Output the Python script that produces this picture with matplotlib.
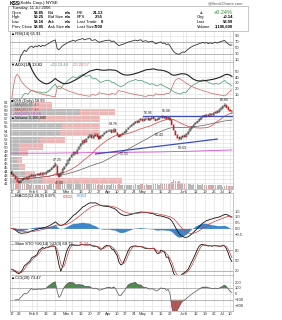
import numpy as np
import pandas as pd
import matplotlib
matplotlib.use("Agg")
import matplotlib.pyplot as plt

# ---- data ----
closes = [43.4, 42.9, 42.1, 41.5,
          41.2, 41.7, 42.0, 42.4, 42.1,
          42.5, 42.9, 43.1, 42.8, 43.2,
          43.0, 43.4, 43.1, 43.5, 43.3,
          43.7, 44.0, 44.4, 44.9, 45.3,
          45.7, 43.2, 42.7, 43.5,
          44.5, 45.1,
          45.9, 46.7, 47.4,
          48.0, 48.7, 48.3, 49.4, 50.1,
          50.7, 51.6, 51.1, 52.1, 52.5,
          52.9, 52.2, 52.7, 53.1, 52.6,
          52.1, 52.7, 53.1, 53.5, 53.9,
          54.0, 54.1, 53.6, 54.3, 53.7,
          53.1, 52.6, 53.0, 53.4,
          53.7, 54.3, 54.8, 55.1, 55.5,
          55.9, 56.3, 56.1, 56.6, 57.0,
          56.5, 56.9, 57.1, 56.7, 57.0,
          57.3, 57.1, 56.6, 56.9, 57.3,
          57.6, 57.2, 57.5, 57.0, 57.4,
          56.8, 55.6, 54.2, 53.0, 52.3,
          51.9, 52.4,
          52.8, 52.5,
          53.2, 53.8, 54.5, 55.1, 55.6,
          56.0, 56.4, 56.9, 57.3, 57.8,
          57.5, 58.0, 57.6, 58.2, 57.9,
          58.4, 58.8, 58.5, 59.2, 59.6,
          60.1,
          60.4, 59.8, 59.3,
          58.85, 58.99]
opens = [43.9, 43.3, 42.8, 42.0,
         41.6, 41.2, 41.8, 42.0, 42.5,
         42.1, 42.5, 42.9, 43.2, 42.8,
         43.3, 43.0, 43.5, 43.1, 43.6,
         43.3, 43.7, 44.0, 44.4, 44.9,
         45.3, 45.4, 43.3, 42.8,
         43.6, 44.6,
         45.2, 45.9, 46.8,
         47.5, 48.1, 48.8, 48.4, 49.5,
         50.2, 50.8, 51.7, 51.2, 52.2,
         52.6, 53.0, 52.3, 52.8, 53.2,
         52.7, 52.2, 52.8, 53.2, 53.6,
         54.0, 54.0, 54.2, 53.7, 54.4,
         53.6, 53.1, 52.7, 53.1,
         53.5, 53.8, 54.4, 54.9, 55.2,
         55.6, 56.0, 56.4, 56.2, 56.7,
         57.0, 56.6, 57.0, 57.2, 56.8,
         57.1, 57.4, 57.0, 56.7, 57.0,
         57.4, 57.7, 57.3, 57.5, 57.1,
         57.3, 56.7, 55.5, 54.1, 53.1,
         52.4, 52.0,
         52.5, 52.9,
         52.6, 53.3, 53.9, 54.6, 55.2,
         55.7, 56.1, 56.5, 57.0, 57.4,
         57.9, 57.6, 58.1, 57.7, 58.3,
         58.0, 58.5, 58.9, 58.6, 59.3,
         59.7,
         60.2, 60.5, 59.9,
         59.2, 58.85]
highs = [44.3, 43.6, 43.0, 42.3,
         41.9, 41.9, 42.3, 42.6, 42.7,
         42.7, 43.1, 43.4, 43.4, 43.4,
         43.5, 43.6, 43.7, 43.7, 43.8,
         43.9, 44.2, 44.6, 45.1, 45.6,
         46.2, 45.7, 43.5, 43.7,
         44.7, 45.4,
         46.1, 46.9, 47.6,
         48.3, 48.9, 49.0, 49.6, 50.4,
         51.0, 51.8, 51.9, 52.3, 52.8,
         53.2, 53.2, 52.9, 53.4, 53.4,
         52.9, 52.9, 53.3, 53.7, 54.1,
         54.3, 54.4, 54.4, 54.76, 54.6,
         53.8, 53.3, 53.2, 53.6,
         53.9, 54.5, 55.0, 55.4, 55.8,
         56.1, 56.6, 56.7, 56.9, 57.3,
         57.6, 57.2, 57.4, 57.5, 57.2,
         57.5, 57.6, 57.2, 57.1, 57.5,
         57.8, 57.98, 57.7, 57.7, 57.6,
         57.5, 56.9, 55.7, 54.3, 53.3,
         52.6, 52.6,
         53.0, 53.1,
         53.4, 54.0, 54.7, 55.3, 55.8,
         56.2, 56.6, 57.1, 57.5, 58.0,
         58.1, 58.2, 58.3, 58.4, 58.5,
         58.6, 59.0, 59.1, 59.4, 59.8,
         60.3,
         60.89, 60.7, 60.1,
         59.4, 59.25]
lows = [43.1, 42.6, 41.8, 41.1,
        40.8, 41.0, 41.5, 41.8, 41.9,
        41.9, 42.3, 42.7, 42.6, 42.6,
        42.8, 42.8, 42.9, 42.9, 43.1,
        43.1, 43.5, 43.8, 44.2, 44.7,
        45.1, 42.9, 42.3, 42.6,
        43.4, 44.4,
        45.0, 45.7, 46.6,
        47.3, 47.9, 48.0, 48.2, 49.3,
        50.0, 50.6, 50.9, 51.0, 52.0,
        52.4, 51.9, 52.0, 52.6, 52.4,
        51.8, 52.0, 52.6, 53.0, 53.4,
        53.7, 53.8, 53.4, 53.5, 53.5,
        52.9, 52.4, 52.4, 52.9,
        53.3, 53.6, 54.2, 54.7, 55.0,
        55.4, 55.8, 55.9, 56.0, 56.5,
        56.2, 56.4, 56.8, 56.5, 56.6,
        56.9, 56.9, 56.4, 56.5, 56.8,
        57.2, 57.0, 57.1, 56.8, 56.9,
        56.6, 55.4, 54.0, 52.8, 52.1,
        51.6, 51.8,
        52.3, 52.2,
        52.4, 53.1, 53.7, 54.4, 55.0,
        55.5, 55.9, 56.3, 56.8, 57.2,
        57.3, 57.4, 57.4, 57.5, 57.7,
        57.8, 58.3, 58.3, 58.4, 59.1,
        59.5,
        59.9, 59.6, 59.1,
        58.6, 58.16]
volumes = [7.2, 6.8, 8.1, 9.0,
           8.5, 6.9, 5.8, 5.2, 5.6,
           5.0, 4.8, 5.3, 4.6, 4.9,
           4.4, 4.7, 4.2, 4.5, 4.1,
           4.3, 4.8, 5.1, 5.6, 6.0,
           7.5, 12.5, 9.8, 7.0,
           6.4, 6.1,
           6.6, 7.1, 6.8,
           6.2, 6.9, 5.7, 7.3, 6.5,
           6.0, 6.8, 5.5, 6.3, 5.9,
           5.4, 5.8, 5.1, 5.6, 4.9,
           5.3, 4.8, 5.0, 4.6, 4.9,
           4.7, 4.4, 5.0, 5.6, 4.8,
           4.5, 5.2, 4.6, 4.3,
           4.1, 4.6, 4.4, 4.9, 4.7,
           4.5, 5.0, 4.8, 4.6, 5.2,
           5.4, 4.9, 5.1, 4.7, 4.5,
           4.8, 5.3, 5.9, 5.1, 4.7,
           6.2, 5.4, 5.0, 5.6, 5.2,
           6.1, 7.8, 9.4, 8.7, 7.9,
           8.3, 6.9,
           6.4, 5.8,
           5.5, 5.9, 5.2, 4.9, 5.3,
           4.7, 5.0, 4.6, 4.9, 5.4,
           4.4, 4.8, 4.3, 4.6, 4.2,
           4.5, 4.1, 4.7, 4.0, 4.4,
           2.6,
           3.8, 4.1, 3.6,
           3.4, 3.1]
# volume-by-price zones (millions of shares), top zone first
vbp_top = [61.2, 59.5, 57.8, 56.1, 54.4, 52.7, 51.0, 49.3, 47.6, 45.9, 44.2, 42.5, 40.8]
vbp_up = [23, 70, 30, 52, 50, 30, 10, 10, 7, 10, 15, 32]
vbp_down = [19, 35, 60, 38, 40, 25, 23, 8, 5, 5, 10, 80]
ma200_idx = [0, 20, 40, 60, 80, 100, 121]
ma200_val = [48.5, 48.5, 48.6, 48.7, 48.8, 49.0, 49.3]
# hand-drawn trend lines: (index, price) end points
resist_idx, resist_val = [72, 121], [57.7, 57.7]
support_idx, support_val = [46, 113], [48.3, 52.0]
# price annotations: (index, price, text, above)
price_notes = [(25, 45.9, "47.25", True), (26, 42.1, "45.80", False),
               (56, 54.76, "54.76", True), (75, 57.7, "56.96", True),
               (85, 57.98, "56.98", True), (81, 54.0, "52.43", False),
               (62, 49.1, "51.55", False), (94, 50.8, "53.53", False),
               (117, 60.89, "60.89", True)]

holidays = pd.to_datetime(["2006-02-20", "2006-04-14", "2006-05-29", "2006-07-04"])
dates = pd.bdate_range("2006-01-17", "2006-07-11")
dates = dates[~dates.isin(holidays)]

c = pd.Series(closes)
o = pd.Series(opens)
h = pd.Series(highs)
l = pd.Series(lows)
v = pd.Series(volumes)
x = np.arange(len(c))

# ---- indicators ----
d = c.diff()
gain = d.clip(lower=0).ewm(alpha=1 / 14).mean()
loss = (-d.clip(upper=0)).ewm(alpha=1 / 14).mean()
rsi = 100 - 100 / (1 + gain / loss)

pc = c.shift()
tr = pd.concat([h - l, (h - pc).abs(), (l - pc).abs()], axis=1).max(axis=1)
upm, dnm = h.diff(), -l.diff()
pdm = upm.where((upm > dnm) & (upm > 0), 0.0)
mdm = dnm.where((dnm > upm) & (dnm > 0), 0.0)
atr = tr.ewm(alpha=1 / 14).mean()
pdi = 100 * pdm.ewm(alpha=1 / 14).mean() / atr
mdi = 100 * mdm.ewm(alpha=1 / 14).mean() / atr
adx = (100 * (pdi - mdi).abs() / (pdi + mdi)).ewm(alpha=1 / 14).mean()

macd = c.ewm(span=12, adjust=False).mean() - c.ewm(span=26, adjust=False).mean()
signal = macd.ewm(span=9, adjust=False).mean()
hist = macd - signal

ll = l.rolling(14, min_periods=1).min()
hh = h.rolling(14, min_periods=1).max()
slow_k = (100 * (c - ll) / (hh - ll)).rolling(3, min_periods=1).mean()
slow_d = slow_k.rolling(3, min_periods=1).mean()

tp = (h + l + c) / 3
tp_ma = tp.rolling(20, min_periods=3).mean()
tp_md = tp.rolling(20, min_periods=3).apply(lambda a: np.abs(a - a.mean()).mean(), raw=True)
cci = (tp - tp_ma) / (0.015 * tp_md)

ma20 = c.rolling(20, min_periods=1).mean()
ma50 = c.rolling(50, min_periods=1).mean()

# ---- week ticks ----
ticks, labels = [], []
week = None
for i, day in enumerate(dates):
    wk = day.isocalendar()[1]
    if wk != week:
        week = wk
        ticks.append(i)
        labels.append(str(day.day))
    if i > 0 and day.month != dates[i - 1].month:
        ticks[-1] = i
        labels[-1] = day.strftime("%b")

# ---- figure ----
W, H = 282, 320
plt.rcParams["font.family"] = ["Liberation Sans", "DejaVu Sans"]
fig = plt.figure(figsize=(W / 100, H / 100), dpi=100)
fig.patch.set_facecolor("white")

GRID = "#dcdcdc"
FS = 3.0
PMIN, PMAX = 39.6, 62.2


def panel(top, bottom, left=10, right=233):
    return fig.add_axes([left / W, 1 - bottom / H, (right - left) / W, (bottom - top) / H])


def style(ax, ylim, yticks):
    ax.set_xlim(-0.9, 121.6)
    ax.set_ylim(*ylim)
    ax.set_xticks(ticks)
    ax.set_xticklabels(labels)
    ax.set_yticks(yticks)
    ax.yaxis.tick_right()
    ax.tick_params(axis="both", length=0, labelsize=FS, pad=1.2, colors="#333333")
    ax.tick_params(axis="x", labelbottom=False)
    ax.grid(True, color=GRID, lw=0.4)
    ax.set_axisbelow(True)
    for s in ax.spines.values():
        s.set_color("#9a9a9a")
        s.set_linewidth(0.4)


# header overlay in pixel coords
hdr = fig.add_axes([0, 0, 1, 1])
hdr.set_xlim(0, W)
hdr.set_ylim(H, 0)
hdr.axis("off")
hdr.text(10, 3.2, "KSS", fontsize=3.6, fontweight="bold", va="center")
hdr.text(19, 3.2, "(Kohls Corp.) NYSE", fontsize=3.2, va="center")
hdr.text(243, 3.6, "@StockCharts.com", fontsize=3.0, va="center", ha="right", color="#555555")
hdr.add_patch(plt.Rectangle((8, 5.5), 240, 25, fill=False, lw=0.4, ec="#9a9a9a"))
hdr.text(12, 8, "Tuesday, 11 Jul 2006", fontsize=FS, va="center")
rows_y = [12.7, 17.3, 22.0, 26.6]
cols = [
    (12, ["Open", "High", "Low", "Prev Close"], "left", False),
    (44, ["58.85", "59.25", "58.16", "58.85"], "right", True),
    (48, ["Bid", "Bid Size", "Ask", "Ask Size"], "left", False),
    (65, ["n/a", "n/a", "n/a", "n/a"], "left", True),
    (77, ["P/E", "EPS", "Last Trade", "Last Size"], "left", False),
    (103, ["21.13", "2.55", "0", "7900"], "right", True),
    (197, ["", "Chg", "Last", "Volume"], "left", False),
    (233, ["", "+0.14", "58.99", "3,106,600"], "right", True),
]
for cx, texts, ha, bold in cols:
    for ry, t in zip(rows_y, texts):
        hdr.text(cx, ry, t, fontsize=FS, ha=ha, va="center",
                 fontweight="bold" if bold else "normal")
hdr.text(200, 12.4, "\u25b2", fontsize=3.4, color="#2e8b2e", va="center", ha="center")
hdr.text(233, 12.4, "+0.24%", fontsize=4.0, color="#2e8b2e", va="center", ha="right")

# ---- RSI ----
ax = panel(31, 62)
style(ax, (2, 106), [10, 30, 50, 70, 90])
ax.axhline(70, color="#a0a0a0", lw=0.5)
ax.axhline(30, color="#a0a0a0", lw=0.5)
ax.plot(x, rsi, color="#333333", lw=0.6)
ax.text(0.005, 0.97, "\u25b2RSI(14) 65.91", transform=ax.transAxes, fontsize=FS, va="top")

# ---- ADX ----
ax = panel(62, 98)
style(ax, (3, 67), [10, 20, 30, 40, 50])
ax.plot(x, pdi, color="#3f9a6a", lw=0.5)
ax.plot(x, mdi, color="#d06060", lw=0.5)
ax.plot(x, adx, color="#202020", lw=0.8)
ax.text(0.005, 0.97, "\u25bcADX(14) 13.82", transform=ax.transAxes, fontsize=FS, va="top")
ax.text(0.18, 0.97, "+DI 13.44", transform=ax.transAxes, fontsize=FS, va="top", color="#3f9a6a")
ax.text(0.28, 0.97, "-DI 22.57", transform=ax.transAxes, fontsize=FS, va="top", color="#d06060")

# ---- price ----
ax = panel(98, 189)
style(ax, (PMIN, PMAX), list(range(41, 62)))
ax.tick_params(axis="x", labelbottom=True, pad=0.8)

axb = ax.twiny()
axv = ax.twinx()
zone_h = np.array(vbp_top[:-1]) - np.array(vbp_top[1:])
zone_mid = np.array(vbp_top[1:]) + zone_h / 2
axb.barh(zone_mid, vbp_up, height=zone_h * 0.9, color="#a9a9a9", alpha=0.8, lw=0)
axb.barh(zone_mid, vbp_down, left=vbp_up, height=zone_h * 0.9, color="#e7a4a4",
         alpha=0.8, lw=0)
axb.set_xlim(0, 223)
axb.set_ylim(PMIN, PMAX)
axb.axis("off")

vol_col = ["#b8b8b8" if k == 0 or closes[k] >= closes[k - 1] else "#e3a3a3" for k in range(len(c))]
axv.bar(x, v, width=0.75, color=vol_col, lw=0)
axv.set_ylim(0, v.max() * 8)
axv.axis("off")
axb.set_zorder(0)
axv.set_zorder(1)
ax.set_zorder(2)
ax.patch.set_visible(False)
axb.patch.set_visible(True)
axb.patch.set_facecolor("white")

ax.plot(ma200_idx, ma200_val, color="#d14fd1", lw=0.6)
ax.plot(x, ma50, color="#606060", lw=0.5)
ax.plot(x, ma20, color="#d04040", lw=0.5)
ax.plot(resist_idx, resist_val, color="#3a4fc0", lw=0.9)
ax.plot(support_idx, support_val, color="#3a4fc0", lw=0.9)

down = c.values < c.shift().fillna(c[0]).values
edge = np.where(down, "#c81e1e", "#111111")
face = np.where(c.values < o.values, edge, "white")
ax.vlines(x, l, h, colors=edge, lw=0.35)
body = np.maximum((c - o).abs().values, 0.06)
ax.bar(x, body, bottom=np.minimum(c, o), width=0.65, color=face, edgecolor=edge, lw=0.3)

for idx, pr, txt, above in price_notes:
    ax.text(idx, pr + (0.4 if above else -0.4), txt, fontsize=2.5, ha="center",
            va="bottom" if above else "top", color="#222222")

leg = [("\u25a0KSS (Daily) 58.99", "#111111"), ("\u2014MA(50) 55.43", "#606060"),
       ("\u2014MA(20) 57.48", "#d04040"), ("\u2014MA(200) 50.46", "#d14fd1"),
       ("\u25b2Volume 3,106,600", "#111111")]
for k, (txt, col) in enumerate(leg):
    ax.text(0.005, 0.985 - k * 0.045, txt, transform=ax.transAxes, fontsize=2.8,
            color=col, va="top")

# ---- MACD ----
ax = panel(193, 241)
style(ax, (-1.1, 3.1), [-0.5, 0.0, 0.5, 1.0, 1.5])
ax.fill_between(x, hist, 0, color="#3f86c9", lw=0)
ax.plot(x, macd, color="#111111", lw=0.6)
ax.plot(x, signal, color="#d04040", lw=0.5)
ax.text(0.005, 0.97, "\u2014MACD(12,26,9) 0.875,", transform=ax.transAxes, fontsize=FS, va="top")
ax.text(0.235, 0.97, "0.822,", transform=ax.transAxes, fontsize=FS, va="top", color="#d04040")
ax.text(0.30, 0.97, "0.053", transform=ax.transAxes, fontsize=FS, va="top", color="#3f86c9")

# ---- Stochastic ----
ax = panel(241, 275)
style(ax, (8, 107), [20, 50, 80])
ax.axhline(80, color="#a0a0a0", lw=0.5)
ax.axhline(20, color="#a0a0a0", lw=0.5)
ax.plot(x, slow_k, color="#111111", lw=0.6)
ax.plot(x, slow_d, color="#d04040", lw=0.5)
ax.text(0.005, 0.97, "\u2014Slow STO %K(14) %D(3) 69.72,", transform=ax.transAxes,
        fontsize=FS, va="top")
ax.text(0.31, 0.97, "71.34", transform=ax.transAxes, fontsize=FS, va="top", color="#d04040")

# ---- CCI ----
ax = panel(275, 311)
style(ax, (-290, 320), [-200, -100, 0, 100, 200])
ax.tick_params(axis="x", labelbottom=True, pad=0.8)
ax.axhline(100, color="#a0a0a0", lw=0.5)
ax.axhline(-100, color="#a0a0a0", lw=0.5)
ax.fill_between(x, cci, 100, where=cci > 100, interpolate=True, color="#4e8a4e", lw=0)
ax.fill_between(x, cci, -100, where=cci < -100, interpolate=True, color="#b45656", lw=0)
ax.plot(x, cci, color="#555555", lw=0.5)
ax.text(0.005, 0.97, "\u25b2CCI(20) 73.47", transform=ax.transAxes, fontsize=FS, va="top")

fig.savefig("out.png", dpi=100)
